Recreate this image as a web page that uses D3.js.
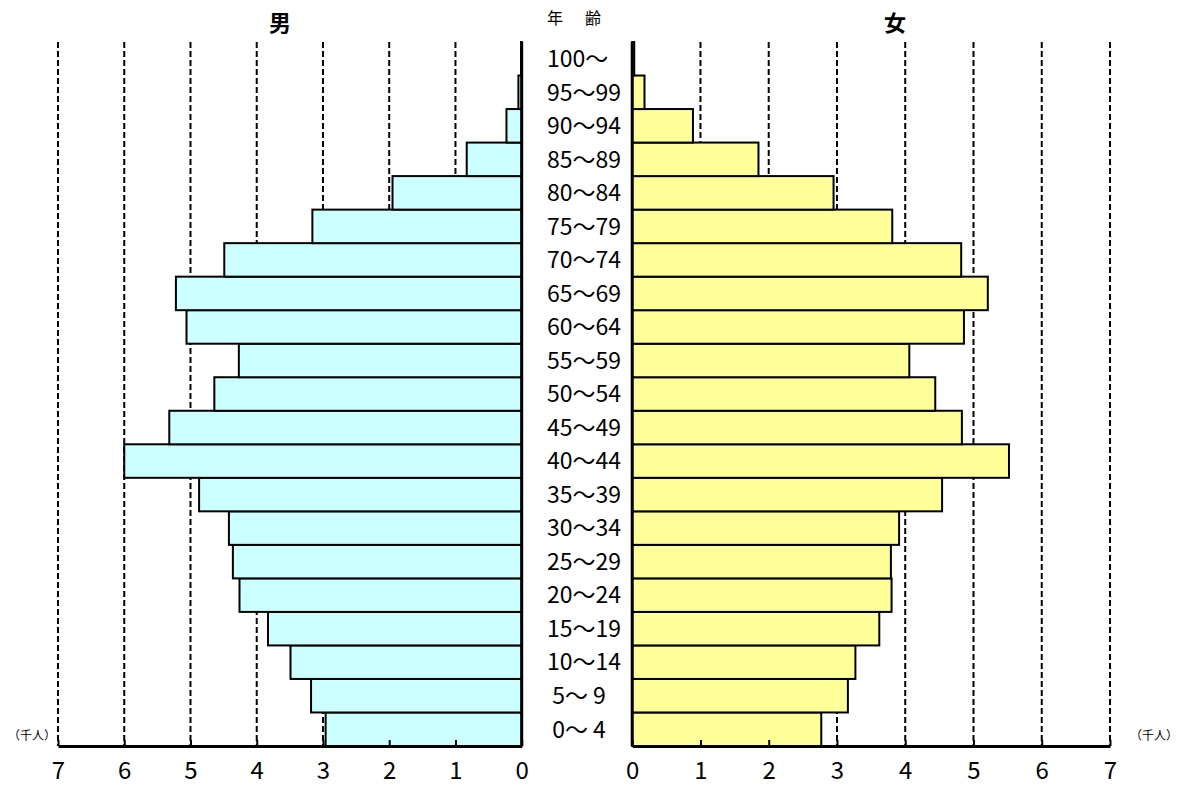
<!DOCTYPE html>
<html>
<head>
<meta charset="utf-8">
<script src="https://cdn.jsdelivr.net/npm/d3@7"></script>
<style>
  body { margin: 0; background: #fff; }
  text { font-family: "Noto Sans CJK JP", "Noto Sans", sans-serif; }
</style>
</head>
<body>
<div id="pyramid"></div>
<script>

const ages = ["0～ 4", "5～ 9", "10～14", "15～19", "20～24", "25～29", "30～34", "35～39", "40～44", "45～49",
    "50～54", "55～59", "60～64", "65～69", "70～74", "75～79", "80～84", "85～89", "90～94", "95～99", "100～"];
const male = [2.96, 3.18, 3.49, 3.83, 4.26, 4.36, 4.42, 4.87, 6.0, 5.32,
    4.64, 4.27, 5.06, 5.22, 4.49, 3.16, 1.95, 0.83, 0.23, 0.05, 0.01];
const female = [2.77, 3.16, 3.27, 3.62, 3.80, 3.79, 3.91, 4.54, 5.52, 4.83,
    4.44, 4.06, 4.86, 5.21, 4.82, 3.81, 2.95, 1.85, 0.89, 0.18, 0.03];
const ticks = [0, 1, 2, 3, 4, 5, 6, 7];

const width = 1185;
const height = 787;
const plotTop = 42;
const plotBottom = 746;

const svg = d3.select("#pyramid").append("svg")
    .attr("width", width)
    .attr("height", height);

const y = d3.scaleBand().domain(ages.slice().reverse()).range([plotTop, plotBottom]).padding(0);
const xLeft = d3.scaleLinear().domain([0, 7]).range([521.7, 58]);
const xRight = d3.scaleLinear().domain([0, 7]).range([632.2, 1110]);

// grid
[xLeft, xRight].forEach(x => {
    svg.append("g")
    .selectAll("line")
    .data(ticks.slice(1)).enter()
    .append("line")
    .attr("x1", d => x(d))
    .attr("x2", d => x(d))
    .attr("y1", plotTop)
    .attr("y2", plotBottom)
    .attr("stroke", "#000")
    .attr("stroke-width", 2)
    .attr("stroke-dasharray", "6,3");
});

// bars
const rows = ages.map((a, i) => ({age: a, m: male[i], f: female[i]}));

svg.append("g")
    .selectAll("rect")
    .data(rows).enter()
    .append("rect")
    .attr("x", d => xLeft(d.m))
    .attr("y", d => y(d.age))
    .attr("width", d => xLeft(0) - xLeft(d.m))
    .attr("height", y.bandwidth())
    .attr("fill", "#ccffff")
    .attr("stroke", "#000")
    .attr("stroke-width", 2);

svg.append("g")
    .selectAll("rect")
    .data(rows).enter()
    .append("rect")
    .attr("x", xRight(0))
    .attr("y", d => y(d.age))
    .attr("width", d => xRight(d.f) - xRight(0))
    .attr("height", y.bandwidth())
    .attr("fill", "#ffff99")
    .attr("stroke", "#000")
    .attr("stroke-width", 2);

// axes
[xLeft, xRight].forEach(x => {
    svg.append("line")
    .attr("x1", x(0)).attr("x2", x(0))
    .attr("y1", plotTop).attr("y2", plotBottom)
    .attr("stroke", "#000")
    .attr("stroke-width", 3);

    const axis = svg.append("g")
    .attr("transform", `translate(0, ${plotBottom})`)
    .call(d3.axisBottom(x).tickValues(ticks).tickFormat(d3.format("d"))
        .tickSizeInner(-6).tickSizeOuter(0).tickPadding(16));

    axis.select(".domain").attr("stroke-width", 3);
    axis.selectAll(".tick line").attr("stroke-width", 2);
    axis.selectAll(".tick text")
    .attr("font-size", 24)
    .attr("font-family", "'Noto Sans CJK JP', sans-serif")
    .attr("fill", "#000");
});

// age labels
svg.append("g")
    .selectAll("text")
    .data(ages).enter()
    .append("text")
    .attr("x", 547)
    .attr("y", d => y(d) + y.bandwidth() / 2)
    .attr("dy", "0.36em")
    .attr("font-size", 23)
    .style("white-space", "pre")
    .text(d => d.startsWith("0～") || d.startsWith("5～") ? " " + d : d);

svg.append("text")
    .attr("x", 280).attr("y", 31)
    .attr("text-anchor", "middle")
    .attr("font-size", 22)
    .attr("font-weight", "bold")
    .text("男");

svg.append("text")
    .attr("x", 895).attr("y", 31)
    .attr("text-anchor", "middle")
    .attr("font-size", 22)
    .attr("font-weight", "bold")
    .text("女");

svg.append("text")
    .attr("x", 547).attr("y", 24)
    .attr("font-size", 16)
    .attr("letter-spacing", 3)
    .text("年　齢");

svg.append("text")
    .attr("x", 56).attr("y", 740)
    .attr("text-anchor", "end")
    .attr("font-size", 12)
    .text("（千人）");

svg.append("text")
    .attr("x", 1130).attr("y", 740)
    .attr("font-size", 12)
    .text("（千人）");

</script>
</body>
</html>
